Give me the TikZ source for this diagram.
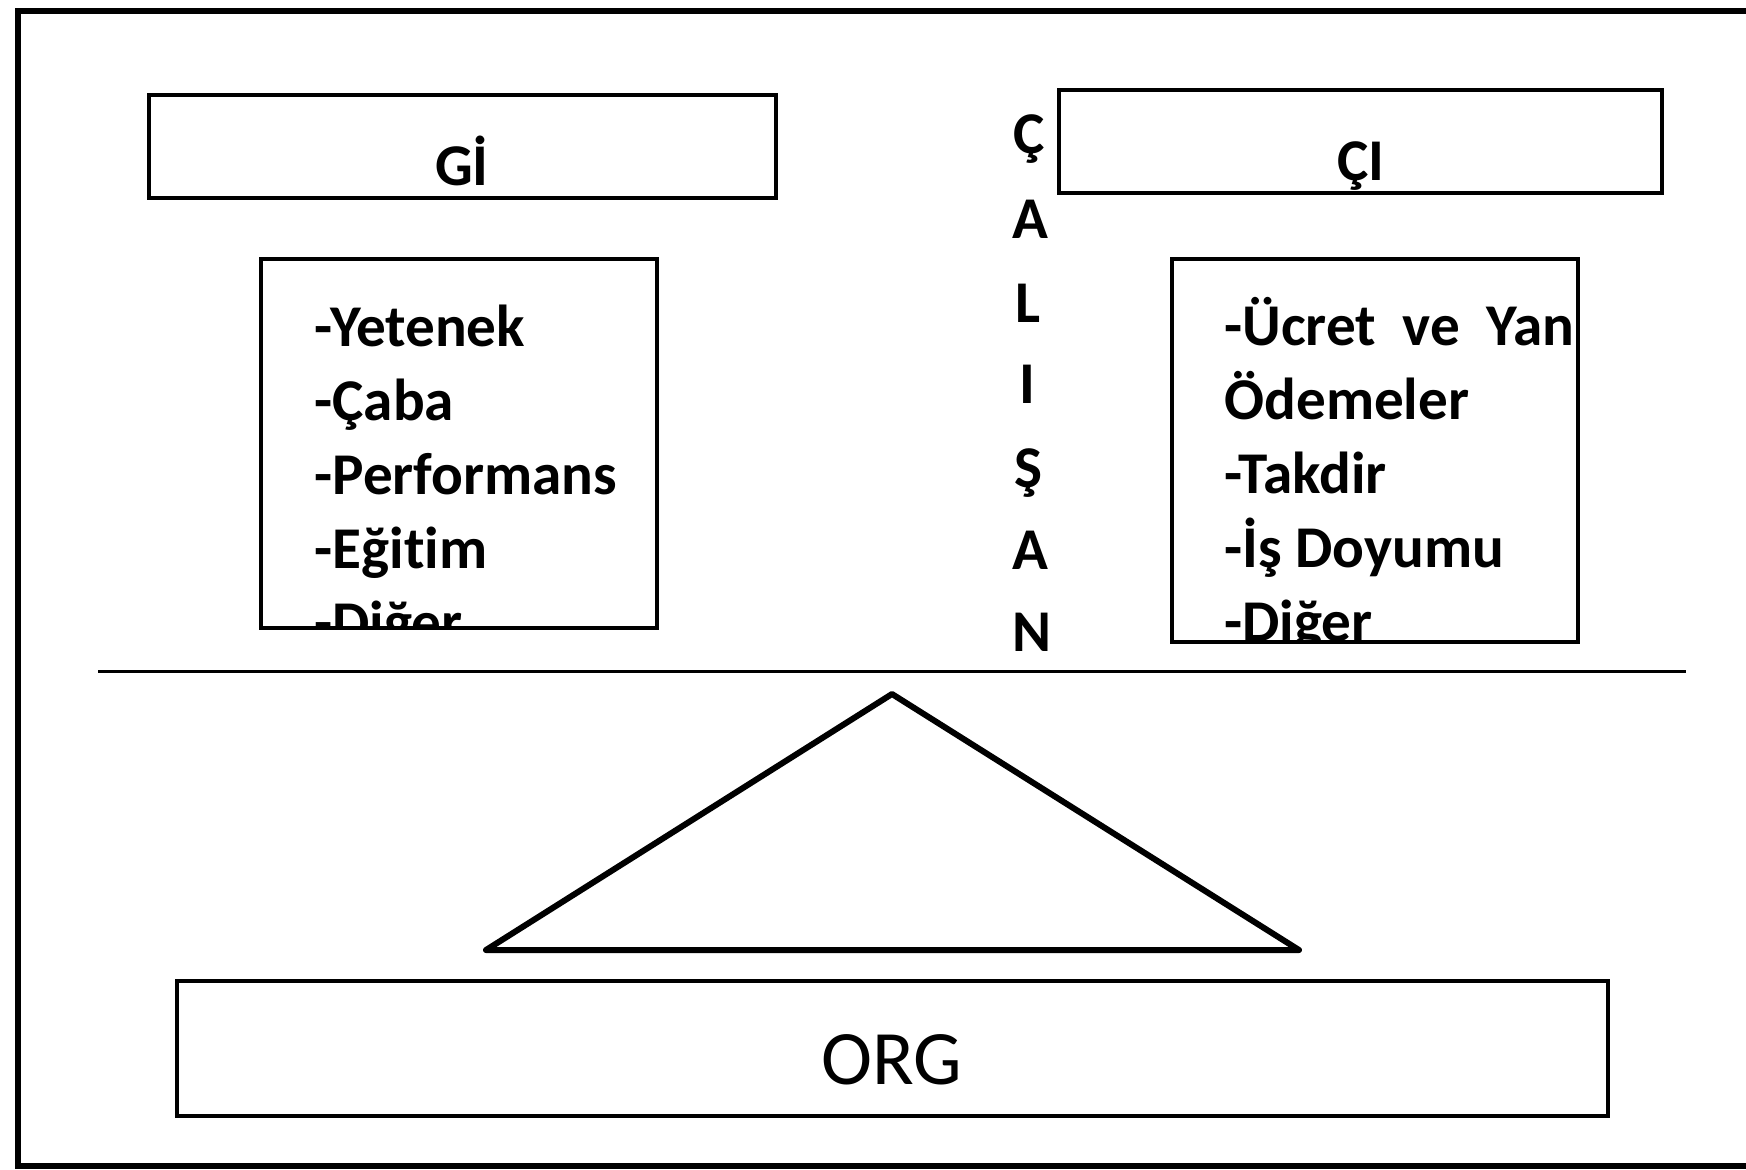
\documentclass[tikz,border=0pt]{standalone}
\usepackage{fontspec}
\setmainfont[RawFeature=-liga]{Carlito}
\begin{document}
\begin{tikzpicture}[x=0.5pt,y=-0.5pt,
  box/.style={draw,line width=1.6pt,inner sep=0pt},
  lbl/.style={font=\bfseries\fontsize{29.6}{37}\selectfont,inner sep=0pt},
  item/.style={lbl,anchor=base west},
  vert/.style={lbl,anchor=base}]
\useasboundingbox (0,0) rectangle (1746,1169);
% outer frame (open to the right)
\coordinate (f1) at (1770,11);
\coordinate (f2) at (18,11);
\coordinate (f3) at (18,1166);
\coordinate (f4) at (1770,1166);
\draw[line width=3pt] (f1) -- (f2) -- (f3) -- (f4);
% header boxes
\node[box,minimum width=313.5pt,minimum height=51.5pt] (gibox) at (462.5,146.5) {};
\node[lbl,anchor=base] (gi) at (462,185) {Gİ};
\node[box,minimum width=301.5pt,minimum height=51.5pt] (cibox) at (1360.5,141.5) {};
\node[lbl,anchor=base] (ci) at (1361,180) {ÇI};
% vertical word
\node[vert] (v1) at (1029,153) {Ç};
\node[vert] (v2) at (1030,238) {A};
\node[vert] (v3) at (1028,322) {L};
\node[vert] (v4) at (1027,403) {I};
\node[vert] (v5) at (1028,487) {Ş};
\node[vert] (v6) at (1030,569) {A};
\node[vert] (v7) at (1032,651) {N};
% left list
\node[box,minimum width=198pt,minimum height=184.5pt] (lbox) at (459,443.5) {};
\begin{scope}
\clip (lbox.north west) rectangle (lbox.south east);
\node[item] (l1) at (314,346) {-Yetenek};
\node[item] (l2) at (314,420) {-Çaba};
\node[item] (l3) at (314,494) {-Performans};
\node[item] (l4) at (314,568) {-Eğitim};
\node[item] (l5) at (314,642) {-Diğer};
\end{scope}
% right list
\node[box,minimum width=203pt,minimum height=191.5pt] (rbox) at (1375,450.5) {};
\begin{scope}
\clip (rbox.north west) rectangle (rbox.south east);
\node[item] (r1) at (1224,345) {\makebox[175pt][s]{-Ücret ve Yan}};
\node[item] (r2) at (1224,419) {Ödemeler};
\node[item] (r3) at (1224,493) {-Takdir};
\node[item] (r4) at (1224,567) {-İş Doyumu};
\node[item] (r5) at (1224,641) {-Diğer};
\end{scope}
% horizontal line
\coordinate (hl) at (98,671);
\coordinate (hr) at (1686,671);
\draw[line width=1.5pt] (hl) -- (hr);
% triangle
\coordinate (ta) at (892,694);
\coordinate (tl) at (486,950);
\coordinate (tr) at (1299,950);
\draw[line width=3pt,line join=round,line cap=round] (ta) -- (tr) -- (tl) -- cycle;
% ORG box
\node[box,minimum width=715.5pt,minimum height=67.5pt] (orgbox) at (892.5,1048.5) {};
\node[font=\fontsize{38.5}{44}\selectfont,inner sep=0pt,anchor=base] (org) at (892,1084) {ORG};
\end{tikzpicture}
\end{document}
